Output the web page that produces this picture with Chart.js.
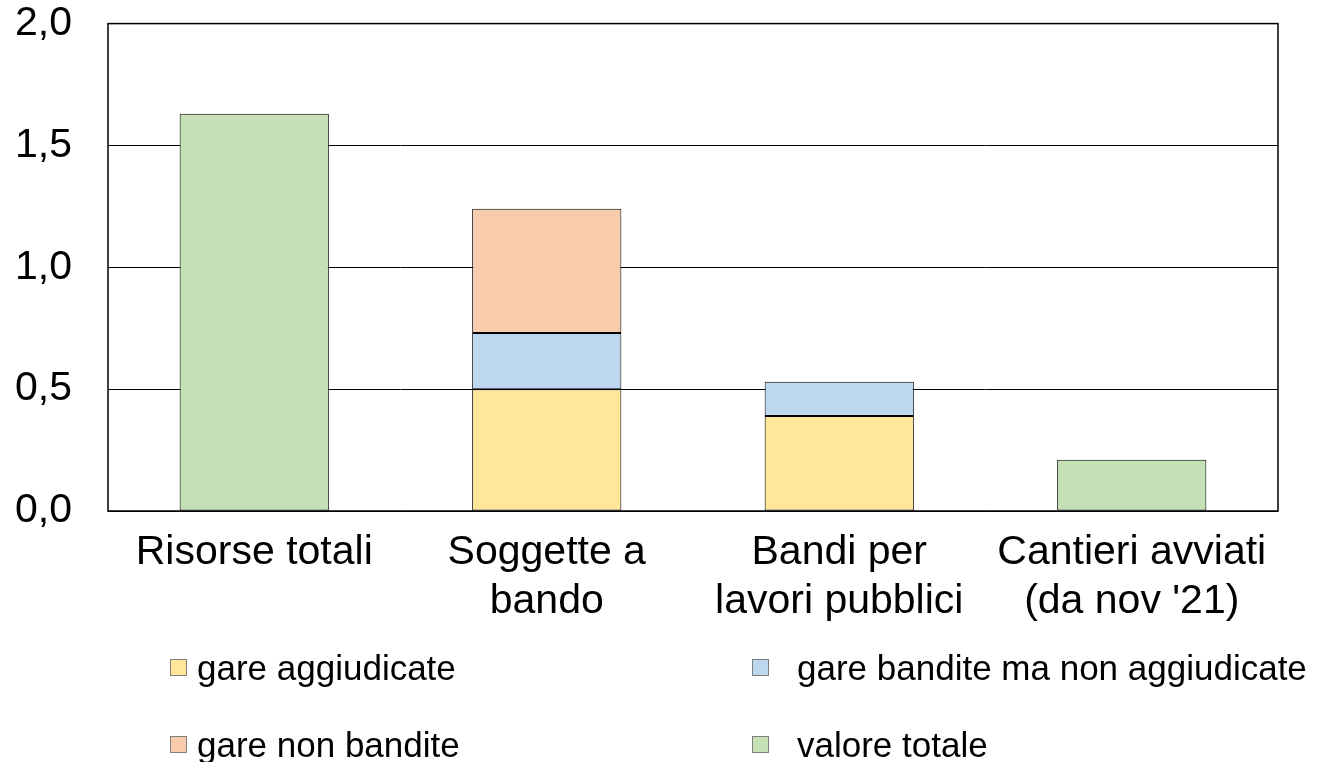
<!DOCTYPE html>
<html>
<head>
<meta charset="utf-8">
<script src="https://cdn.jsdelivr.net/npm/chart.js@4"></script>
<style>
  html, body { margin: 0; padding: 0; background: #fff; }
  #wrap { position: relative; width: 1317px; height: 762px; overflow: hidden; }
  #chart { position: absolute; left: 0; top: -37px; }
  #legend { position: absolute; left: 0; top: 0; width: 1317px; height: 762px; pointer-events: none;
            font-family: "Liberation Sans", Arial, sans-serif; font-size: 35px; color: #000; }
  .item { position: absolute; white-space: nowrap; line-height: 40px; }
  .box { position: absolute; width: 15px; height: 15px; border: 1px solid #7f7f7f; top: 11px; }
</style>
</head>
<body>
<div id="wrap">
  <canvas id="chart" width="1317" height="799"></canvas>
  <div id="legend"></div>
</div>
<script>
const categories = [['Risorse totali'], ['Soggette a', 'bando'], ['Bandi per', 'lavori pubblici'], ['Cantieri avviati', "(da nov '21)"]];
const seriesNames = ['gare aggiudicate', 'gare bandite ma non aggiudicate', 'gare non bandite', 'valore totale'];
const aggiudicate = [null, 0.50, 0.39, null];
const banditeNonAgg = [null, 0.23, 0.14, null];
const nonBandite = [null, 0.51, null, null];
const valoreTotale = [1.63, null, null, 0.21];
const yTicks = [0, 0.5, 1.0, 1.5, 2.0];

const colors = ['#FFE699', '#BDD7EE', '#F8CBAD', '#C5E0B4'];
const seriesData = [aggiudicate, banditeNonAgg, nonBandite, valoreTotale];

const frame = {
    id: 'frame',
    afterDraw(chart) {
        const { ctx, chartArea: a } = chart;
        ctx.save();
        ctx.strokeStyle = '#000';
        ctx.lineWidth = 1.5;
        ctx.strokeRect(a.left, a.top, a.right - a.left, a.bottom - a.top);
        ctx.restore();
    }
};

const chart = new Chart(document.getElementById('chart'), {
    type: 'bar',
    data: {
        labels: categories,
        datasets: seriesData.map((d, i) => ({
            label: seriesNames[i],
            data: d,
            backgroundColor: colors[i],
            borderColor: '#000',
            borderWidth: 1,
            borderSkipped: false,
            barPercentage: 0.51,
            categoryPercentage: 1
        }))
    },
    options: {
        responsive: false,
        animation: false,
        layout: { padding: { left: 0, right: 39, top: 0, bottom: 121 } },
        plugins: { legend: { display: false }, tooltip: { enabled: false } },
        scales: {
            x: {
                stacked: true,
                grid: { display: false, drawTicks: false },
                border: { display: false },
                ticks: {
                    color: '#000',
                    padding: 17,
                    maxRotation: 0,
                    autoSkip: false,
                    font: { family: '"Liberation Sans", Arial, sans-serif', size: 41, lineHeight: 1.2 }
                },
                afterFit(scale) { scale.height = 130; }
            },
            y: {
                stacked: true,
                min: 0,
                max: 2,
                grid: { color: '#000', lineWidth: 1, drawTicks: false },
                border: { display: false },
                afterBuildTicks(scale) { scale.ticks = yTicks.map(v => ({ value: v })); },
                ticks: {
                    color: '#000',
                    padding: 36,
                    font: { family: '"Liberation Sans", Arial, sans-serif', size: 41 },
                    callback: v => v.toFixed(1).replace('.', ',')
                },
                afterFit(scale) { scale.width = 108; }
            }
        }
    },
    plugins: [frame]
});

// legend in two columns, built from the series names
const legendPos = [[170, 648], [752, 648], [170, 725], [752, 725]];
const textOffset = [27, 45, 27, 45];
const legend = document.getElementById('legend');
seriesNames.forEach((name, i) => {
    const it = document.createElement('div');
    it.className = 'item';
    it.style.left = legendPos[i][0] + 'px';
    it.style.top = legendPos[i][1] + 'px';
    it.innerHTML = '<span class="box" style="left:0;background:' + colors[i] + '"></span>' +
        '<span style="margin-left:' + textOffset[i] + 'px">' + name + '</span>';
    legend.appendChild(it);
});
</script>
</body>
</html>
